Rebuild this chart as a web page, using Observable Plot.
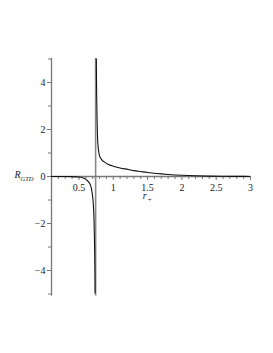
<!DOCTYPE html>
<html><head><meta charset="utf-8">
<script src="https://cdn.jsdelivr.net/npm/d3@7"></script>
<script src="https://cdn.jsdelivr.net/npm/@observablehq/plot@0.6"></script>
<style>body{margin:0;background:#fff}</style>
</head><body><div id="chart"></div>
<script>
const leftX = [0.1, 0.3, 0.4, 0.5, 0.56, 0.62, 0.67, 0.694, 0.709, 0.72, 0.728, 0.733, 0.736];
const leftY = [0, -0.001, -0.005, -0.02, -0.06, -0.17, -0.38, -0.74, -1.16, -1.87, -3.0, -4.2, -5.3];
const rightX = [0.752, 0.758, 0.765, 0.772, 0.78, 0.79, 0.8, 0.83, 0.873, 0.93, 1.0, 1.1, 1.22, 1.3, 1.4, 1.5, 1.6, 1.7, 1.8, 1.9, 2.0, 2.2, 2.4, 2.6, 2.8, 3.0];
const rightY = [5.3, 3.5, 2.3, 1.6, 1.25, 1.03, 0.89, 0.72, 0.61, 0.51, 0.44, 0.36, 0.3, 0.25, 0.21, 0.17, 0.14, 0.11, 0.085, 0.065, 0.05, 0.03, 0.018, 0.01, 0.005, 0.003];
const asymptoteX = [0.743];
const xMajor = [0.5, 1, 1.5, 2, 2.5, 3];
const xMajorLabels = ["0.5", "1", "1.5", "2", "2.5", "3"];
const xMinor = [0.2, 0.3, 0.4, 0.6, 0.7, 0.8, 0.9, 1.1, 1.2, 1.3, 1.4, 1.6, 1.7, 1.8, 1.9, 2.1, 2.2, 2.3, 2.4, 2.6, 2.7, 2.8, 2.9];
const yMajor = [-4, -2, 0, 2, 4];
const yMajorLabels = ["\u22124", "\u22122", "0", "2", "4"];
const yMinor = [-5, -3, -1, 1, 3, 5];
const yTitle = ["R", "GTD"];
const xTitle = ["r", "+"];

const curve = [
  ...leftX.map((x, i) => ({x, y: leftY[i], branch: "left"})),
  ...rightX.map((x, i) => ({x, y: rightY[i], branch: "right"}))
];
const font = "'Liberation Serif', 'Times New Roman', serif";
const axisColor = "#777";
const ink = "#222";

const chart = Plot.plot({
  width: 273, height: 353,
  marginLeft: 51, marginRight: 23, marginTop: 58.5, marginBottom: 59.5,
  x: {domain: [0.1, 3], axis: null},
  y: {domain: [-5, 5], axis: null},
  style: {fontFamily: font, background: "white"},
  marks: [
    Plot.ruleX(asymptoteX, {x: d => d, stroke: "#888", strokeWidth: 1.6, insetTop: -0.5, insetBottom: -2}),
    Plot.ruleY([0], {stroke: axisColor, strokeWidth: 1.3}),
    Plot.ruleX([0.1], {stroke: axisColor, strokeWidth: 1.3, insetTop: -0.5, insetBottom: -2}),
    Plot.ruleX(xMajor, {x: d => d, y1: 0, y2: 0, insetBottom: -4, stroke: axisColor}),
    Plot.ruleX(xMinor, {x: d => d, y1: 0, y2: 0, insetBottom: -3, stroke: axisColor}),
    Plot.ruleY(yMajor, {y: d => d, x1: 0.1, x2: 0.1, insetLeft: -4, stroke: axisColor}),
    Plot.ruleY(yMinor, {y: d => d, x1: 0.1, x2: 0.1, insetLeft: -3, stroke: axisColor}),
    Plot.text(xMajor, {x: d => d, y: 0, text: (d, i) => xMajorLabels[i], dy: 11, fontSize: 10, fontFamily: font, fill: ink}),
    Plot.text(yMajor, {x: 0.1, y: d => d, text: (d, i) => yMajorLabels[i], dx: -6, textAnchor: "end", fontSize: 10, fontFamily: font, fill: ink}),
    Plot.line(curve, {x: "x", y: "y", z: "branch", curve: "monotone-x", stroke: "#111", strokeWidth: 1.1, clip: true}),
    Plot.text([yTitle[0]], {frameAnchor: "left", y: 0, dx: -37, dy: -2, text: d => d, textAnchor: "start", fontStyle: "italic", fontSize: 10, fontFamily: font, fill: ink}),
    Plot.text([yTitle[1]], {frameAnchor: "left", y: 0, dx: -31, dy: 2, text: d => d, textAnchor: "start", fontStyle: "italic", fontSize: 6.5, fontFamily: font, fill: ink}),
    Plot.text([xTitle[0]], {x: 1.43, y: 0, dy: 19, text: d => d, textAnchor: "start", fontStyle: "italic", fontSize: 10, fontFamily: font, fill: ink}),
    Plot.text([xTitle[1]], {x: 1.43, y: 0, dx: 5, dy: 23, text: d => d, textAnchor: "start", fontSize: 7, fontFamily: font, fill: ink})
  ]
});
document.getElementById("chart").append(chart);
</script>
</body></html>
